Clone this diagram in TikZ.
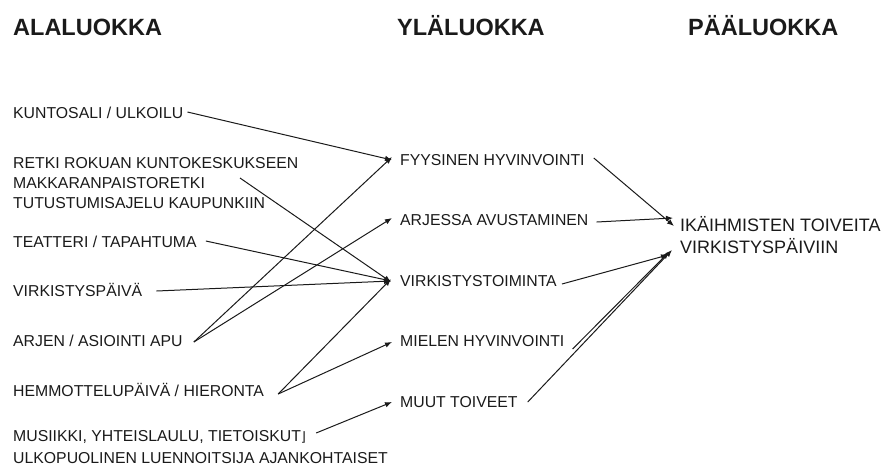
\documentclass[tikz,border=0pt]{standalone}
\usepackage{fontspec}
\setmainfont{Liberation Sans}
\newfontfamily\symfont{DejaVu Sans}
\usetikzlibrary{arrows.meta}
\definecolor{ink}{HTML}{1A1A1A}
\tikzset{
  hdr/.style={anchor=west, inner sep=0pt, text=ink, font=\fontsize{23.5}{27}\selectfont\bfseries, text height=16.9pt, text depth=0pt},
  lbl/.style={anchor=west, inner sep=0pt, text=ink, font=\fontsize{15.8}{19}\selectfont, text height=11.3pt, text depth=0pt},
  big/.style={anchor=west, inner sep=0pt, text=ink, font=\fontsize{18}{22}\selectfont, text height=12.9pt, text depth=0pt},
  conn/.style={draw=ink, line width=1pt, -{Latex[length=7pt,width=5.5pt]}}
}
\begin{document}
\begin{tikzpicture}[x=1pt,y=-1pt]
\useasboundingbox (0,0) rectangle (888,467);
% headers
\node[hdr] (h1) at (13,27) {ALALUOKKA};
\node[hdr] (h2) at (397,27) {YLÄLUOKKA};
\node[hdr] (h3) at (688,27) {PÄÄLUOKKA};
% left column
\node[lbl] (kun) at (13,113) {KUNTOSALI / ULKOILU};
\node[lbl] (ret1) at (13,163) {RETKI ROKUAN KUNTOKESKUKSEEN};
\node[lbl] (ret2) at (13,183) {MAKKARANPAISTORETKI};
\node[lbl] (ret3) at (13,203) {TUTUSTUMISAJELU KAUPUNKIIN};
\coordinate (retc) at (240,178);
\node[lbl] (tea) at (13,242) {TEATTERI / TAPAHTUMA};
\node[lbl] (vpa) at (13,291) {VIRKISTYSPÄIVÄ};
\node[lbl] (arj) at (13,341) {ARJEN / ASIOINTI APU};
\node[lbl] (hem) at (13,391) {HEMMOTTELUPÄIVÄ / HIERONTA};
\node[lbl] (mus) at (13,436) {MUSIIKKI, YHTEISLAULU, TIETOISKUT{\symfont\fontsize{13}{15}\selectfont ⌋}};
\node[lbl] (ulk) at (13,458) {ULKOPUOLINEN LUENNOITSIJA AJANKOHTAISET};
% middle column
\node[lbl] (fyy) at (400,160) {FYYSINEN HYVINVOINTI};
\node[lbl] (arv) at (400,220) {ARJESSA AVUSTAMINEN};
\node[lbl] (vto) at (400,281) {VIRKISTYSTOIMINTA};
\node[lbl] (mie) at (400,341) {MIELEN HYVINVOINTI};
\node[lbl] (muu) at (400,402) {MUUT TOIVEET};
% right
\node[big] (p1) at (680,225) {IKÄIHMISTEN TOIVEITA};
\node[big] (p2) at (680,247) {VIRKISTYSPÄIVIIN};
% connectors left -> middle
\draw[conn] ([xshift=4pt,yshift=1pt]kun.east) -- ([xshift=-8pt]fyy.west);
\draw[conn] (retc) -- ([xshift=-9pt,yshift=-1pt]vto.west);
\draw[conn] ([xshift=9pt,yshift=1pt]tea.east) -- ([xshift=-9pt]vto.west);
\draw[conn] ([xshift=14pt]vpa.east) -- ([xshift=-9pt,yshift=0pt]vto.west);
\draw[conn] ([xshift=11pt,yshift=-1pt]arj.east) -- ([xshift=-8pt,yshift=3pt]fyy.west);
\draw[conn] ([xshift=11pt,yshift=-1pt]arj.east) -- ([xshift=-8pt,yshift=2pt]arv.west);
\draw[conn] ([xshift=14pt,yshift=-3pt]hem.east) -- ([xshift=-9pt,yshift=2pt]vto.west);
\draw[conn] ([xshift=14pt,yshift=-3pt]hem.east) -- ([xshift=-8pt,yshift=-1pt]mie.west);
\draw[conn] ([xshift=10pt,yshift=3pt]mus.east) -- ([xshift=-8pt,yshift=0pt]muu.west);
% connectors middle -> right
\draw[conn] ([xshift=9pt,yshift=2pt]fyy.east) -- ([xshift=-6pt,yshift=-1pt]p1.west);
\draw[conn] ([xshift=8pt,yshift=-2pt]arv.east) -- ([xshift=-7pt,yshift=7pt]p1.west);
\draw[conn] ([xshift=5pt,yshift=-3pt]vto.east) -- ([xshift=-12pt,yshift=-8pt]p2.west);
\draw[conn] ([xshift=8pt,yshift=-8pt]mie.east) -- ([xshift=-11pt,yshift=-5pt]p2.west);
\draw[conn] ([xshift=10pt]muu.east) -- ([xshift=-8pt,yshift=-3pt]p2.west);
\end{tikzpicture}
\end{document}
